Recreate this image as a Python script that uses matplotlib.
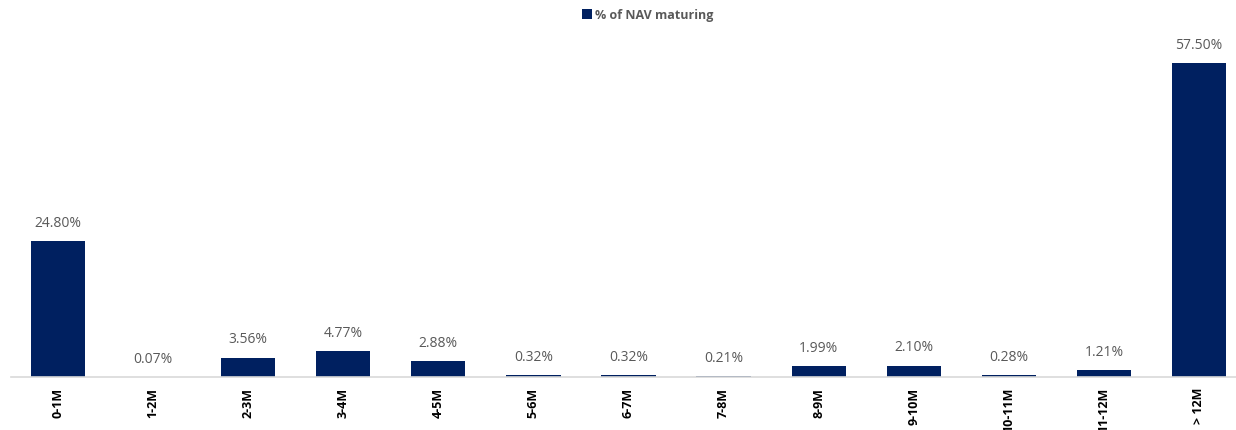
import matplotlib
matplotlib.use("Agg")
import matplotlib.pyplot as plt

categories = ["0-1M", "1-2M", "2-3M", "3-4M", "4-5M", "5-6M", "6-7M", "7-8M",
              "8-9M", "9-10M", "10-11M", "11-12M", "> 12M"]
values = [24.80, 0.07, 3.56, 4.77, 2.88, 0.32, 0.32, 0.21, 1.99, 2.10, 0.28, 1.21, 57.50]
series_name = "% of NAV maturing"

navy = "#002060"
fig = plt.figure(figsize=(12.36, 4.31), dpi=100)
ax = fig.add_axes([10.5 / 1236, 53 / 431, 1.0, 340 / 431])
x = list(range(len(categories)))
bars = ax.bar(x, values, width=0.57, color=navy, label=series_name, zorder=2)
for xi, v in zip(x, values):
    ax.annotate(f"{v:.2f}%", (xi, v), xytext=(0, 8), textcoords="offset points",
                ha="center", va="bottom", fontsize=10, color="#595959",
                family=["Open Sans", "DejaVu Sans"])
ax.set_xlim(-0.5, 12.5)
ax.set_ylim(0, 62.2)
ax.set_xticks(x)
ax.set_xticklabels(categories, rotation=90, fontsize=9, fontweight="bold",
                   family=["Open Sans", "DejaVu Sans"], color="black")
ax.tick_params(axis="x", length=0, pad=7)
ax.set_yticks([])
for s in ["top", "right", "left"]:
    ax.spines[s].set_visible(False)
ax.spines["bottom"].set_color("#d9d9d9")
ax.spines["bottom"].set_linewidth(1.2)

leg = fig.legend(loc="upper center", bbox_to_anchor=(0.524, 1.005), frameon=False,
                 prop={"family": ["Open Sans", "DejaVu Sans"], "weight": "bold", "size": 9},
                 handlelength=0.8, handleheight=0.8, handletextpad=0.3)
for t in leg.get_texts():
    t.set_color("#595959")

fig.savefig("out.png", dpi=100)
